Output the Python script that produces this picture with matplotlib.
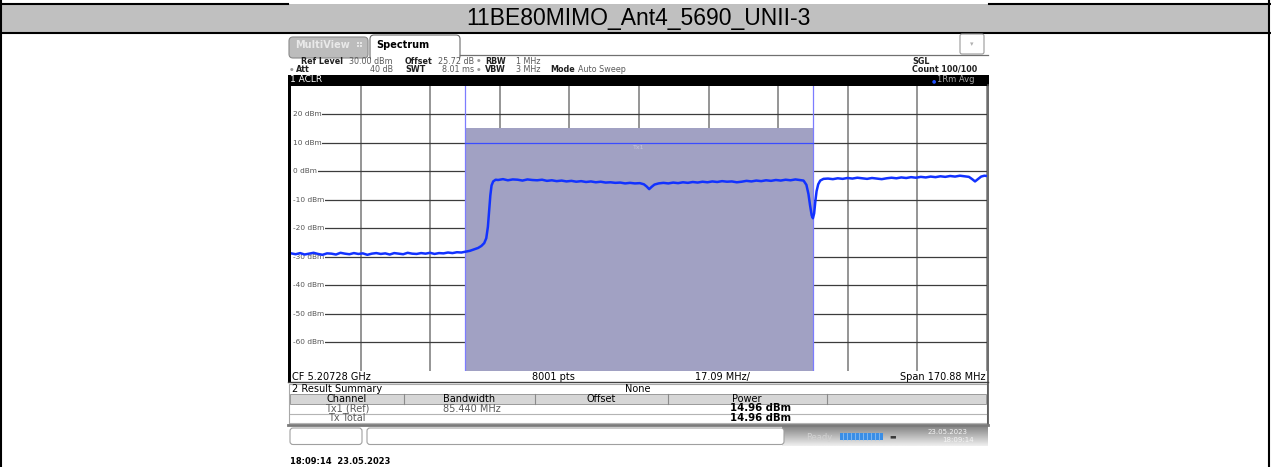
import numpy as np
import matplotlib
matplotlib.use('Agg')
import matplotlib.pyplot as plt
from matplotlib.patches import Rectangle, FancyBboxPatch
from matplotlib.transforms import blended_transform_factory

plt.rcParams['font.family'] = ['DejaVu Sans']

# ---- data ----
title = '11BE80MIMO_Ant4_5690_UNII-3'
ref_level_dbm = 30.0
db_per_div = 10.0
span_mhz = 170.88
channel_bw_mhz = 85.44
tx_power_dbm = 14.96
tx_line_dbm = 10.0
ytick_dbm = [20, 10, 0, -10, -20, -30, -40, -50, -60]

# trace: offset from CF (MHz) and level (dBm)
trace_freq_mhz = [
    -85.4, -84.3, -83.2, -82.1, -81.0, -79.9, -78.8, -77.7, -76.6, -75.5,
    -74.4, -73.3, -72.2, -71.1, -70.0, -68.9, -67.8, -66.7, -65.6, -64.5,
    -63.4, -62.3, -61.2, -60.1, -59.0, -57.9, -56.8, -55.7, -54.6, -53.5,
    -52.4, -51.3, -50.2, -49.1, -48.0, -46.9, -45.8, -44.7, -43.6, -42.5,
    -41.5, -40.5, -39.5, -38.7, -38.0, -37.5, -37.1, -36.8, -36.5, -36.2,
    -35.8, -35.2, -34.6, -33.4, -32.2, -31.0, -29.8, -28.6, -27.4, -26.2,
    -25.0, -23.8, -22.6, -21.4, -20.2, -19.0, -17.8, -16.6, -15.4, -14.2,
    -13.0, -11.8, -10.6, -9.4, -8.2, -7.0, -5.8, -4.6, -3.4, -2.2,
    -1.0, 0.2, 1.2, 1.9, 2.5, 3.1, 3.8, 4.8, 6.0, 7.2,
    8.4, 9.6, 10.8, 12.0, 13.2, 14.4, 15.6, 16.8, 18.0, 19.2,
    20.4, 21.6, 22.8, 24.0, 25.2, 26.4, 27.6, 28.8, 30.0, 31.2,
    32.4, 33.6, 34.8, 36.0, 37.2, 38.4, 39.4, 40.4, 41.1, 41.6,
    42.0, 42.4, 42.7, 43.0, 43.3, 43.6, 44.0, 44.5, 45.3, 46.4,
    47.6, 48.8, 50.0, 51.2, 52.4, 53.6, 54.8, 56.0, 57.2, 58.4,
    59.6, 60.8, 62.0, 63.2, 64.4, 65.6, 66.8, 68.0, 69.2, 70.4,
    71.6, 72.8, 74.0, 75.2, 76.4, 77.6, 78.8, 80.0, 81.0, 81.8,
    82.5, 83.2, 84.0, 84.8, 85.44,
]
trace_level_dbm = [
    -28.8, -29.1, -28.7, -29.2, -28.9, -28.6, -29.0, -29.3, -28.8, -28.9,
    -29.2, -28.6, -28.9, -29.1, -28.7, -29.0, -28.8, -29.3, -28.9, -28.7,
    -29.0, -28.8, -29.2, -28.7, -28.9, -29.1, -28.6, -28.9, -29.0, -28.7,
    -28.9, -28.6, -29.0, -28.7, -28.8, -28.5, -28.7, -28.4, -28.5, -28.2,
    -27.9, -27.4, -26.9, -26.2, -25.2, -23.5, -19.5, -14.0, -8.5, -5.0,
    -3.6, -3.0, -3.1, -2.8, -3.2, -2.9, -3.0, -3.3, -2.9, -3.1,
    -3.2, -3.0, -3.4, -3.2, -3.5, -3.3, -3.6, -3.4, -3.7, -3.5,
    -3.8, -3.6, -3.9, -3.7, -4.0, -3.9, -4.1, -4.0, -4.3, -4.1,
    -4.3, -4.2, -4.6, -5.4, -6.3, -5.5, -4.7, -4.3, -4.1, -4.3,
    -4.0, -4.2, -3.9, -4.1, -3.8, -4.0, -3.7, -3.9, -3.6, -3.8,
    -3.5, -3.7, -3.6, -3.9, -3.7, -3.4, -3.6, -3.3, -3.5, -3.2,
    -3.4, -3.1, -3.3, -3.0, -3.2, -2.9, -3.1, -3.3, -4.8, -8.0,
    -12.0, -15.5, -16.5, -14.8, -10.5, -7.0, -4.6, -3.3, -2.7, -2.6,
    -2.8, -2.5, -2.7, -2.4, -2.6, -2.3, -2.5, -2.7, -2.4, -2.6,
    -2.8, -2.5, -2.3, -2.5, -2.2, -2.4, -2.1, -2.3, -2.0, -2.2,
    -1.9, -2.1, -1.8, -2.0, -1.7, -1.9, -1.6, -1.8, -2.0, -2.8,
    -3.6, -2.8, -1.9, -1.6, -1.7,
]

W, H = 1271, 467
fig = plt.figure(figsize=(W / 100, H / 100), dpi=100)
bg = fig.add_axes([0, 0, 1, 1])
bg.set_xlim(0, W)
bg.set_ylim(H, 0)
bg.axis('off')


def rect(x0, y0, x1, y1, fc, ec='none', lw=0.8, z=1):
    bg.add_patch(Rectangle((x0, y0), x1 - x0, y1 - y0, fc=fc, ec=ec, lw=lw, zorder=z))


def rbox(x0, y0, x1, y1, fc, ec, lw=0.8, r=3, z=2):
    bg.add_patch(FancyBboxPatch((x0, y0), x1 - x0, y1 - y0,
                                boxstyle='round,pad=0,rounding_size=%d' % r,
                                fc=fc, ec=ec, lw=lw, zorder=z, mutation_aspect=1))


def txt(x, y, s, size=6, **kw):
    kw.setdefault('va', 'center')
    bg.text(x, y, s, fontsize=size, zorder=6, **kw)


# outer report table
rect(1, 4, 1268, 32.5, '#c0c0c0')
bg.plot([0, 288], [3.5, 3.5], color='black', lw=1.5)
bg.plot([989, W], [3.5, 3.5], color='black', lw=1.5)
bg.plot([0, W], [32.8, 32.8], color='black', lw=1.5)
bg.plot([1.2, 1.2], [0, H], color='black', lw=1.5)
bg.plot([1268.5, 1268.5], [0, H], color='black', lw=1.5)
txt(638, 18.5, title, size=16.5, ha='center', family=['Liberation Sans', 'DejaVu Sans'])

# tabs
rbox(289, 37, 368, 58, '#bcbcbc', '#8a8a8a', r=4)
txt(295, 45.5, 'MultiView', size=7, color='#e9e9e9', weight='bold')
for dx, dy in [(0, 0), (3, 0), (0, 3), (3, 3)]:
    rect(357 + dx, 42 + dy, 359 + dx, 44 + dy, '#e6e6e6', z=4)
rbox(370, 35, 460, 60, 'white', '#6a6a6a', r=4)
rect(371, 54, 459, 62, 'white', z=3)
bg.plot([460, 988], [55, 55], color='#707070', lw=0.9, zorder=3)
txt(376, 45, 'Spectrum', size=7, color='black', weight='bold')
rbox(960, 34, 984, 54, 'white', '#9a9a9a', r=2)
txt(972, 44, '\u25be', size=5, ha='center', color='#b0b0b0')

# settings header
y1, y2 = 61, 69.5
lab = dict(weight='bold', color='#202020', size=5.8)
val = dict(color='#5a5a5a', size=5.8)
txt(301, y1, 'Ref Level', **lab)
txt(349, y1, '30.00 dBm', **val)
txt(405, y1, 'Offset', **lab)
txt(438, y1, '25.72 dB', **val)
txt(477, y1, '\u25cf', color='#9a9a9a', size=3)
txt(485, y1, 'RBW', **lab)
txt(516, y1, '1 MHz', **val)
txt(290, y2, '\u25cf', color='#9a9a9a', size=3)
txt(296, y2, 'Att', **lab)
txt(393, y2, '40 dB', ha='right', **val)
txt(405, y2, 'SWT', **lab)
txt(442, y2, '8.01 ms', **val)
txt(477, y2, '\u25cf', color='#9a9a9a', size=3)
txt(485, y2, 'VBW', **lab)
txt(516, y2, '3 MHz', **val)
txt(550, y2, 'Mode', **lab)
txt(578, y2, 'Auto Sweep', **val)
txt(912, y1, 'SGL', **lab)
txt(912, y2, 'Count 100/100', weight='bold', color='#202020', size=5.8)

# black window bar
rect(288, 74.5, 989, 85.5, 'black', z=3)
txt(290, 80, '1 ACLR', size=6.5, color='white')
txt(932, 80.5, '\u25cf', size=3.5, color='#2050ff')
txt(937, 80, '1Rm Avg', size=6, color='#a8a8a8')

# frame of the trace window
rect(287.5, 74.5, 291, 381.5, 'black', z=3)
bg.plot([988, 988], [85, 425], color='#505050', lw=1.2, zorder=3)

# CF row
cf = dict(size=7, color='black', va='baseline')
txt(292, 380, 'CF 5.20728 GHz', **cf)
txt(553, 380, '8001 pts', ha='center', **cf)
txt(722, 380, '%.2f MHz/' % (span_mhz / 10), ha='center', **cf)
txt(986, 380, 'Span %.2f MHz' % span_mhz, ha='right', **cf)
bg.plot([288, 988], [381.8, 381.8], color='#404040', lw=1.0, zorder=3)

# result summary
rect(289, 384, 987, 425, 'white', ec='#a8a8a8', lw=0.8)
txt(292, 389.5, '2 Result Summary', size=7, color='black')
txt(638, 389.5, 'None', size=7, ha='center', color='black')
rect(290, 394, 986, 403.5, '#d6d6d6', ec='#9a9a9a', lw=0.7, z=2)
for xd in [404, 535, 668, 827]:
    bg.plot([xd, xd], [394, 403.5], color='#8a8a8a', lw=0.8, zorder=3)
hdr = dict(size=7, ha='center', color='black')
txt(347, 398.7, 'Channel', **hdr)
txt(469, 398.7, 'Bandwidth', **hdr)
txt(601, 398.7, 'Offset', **hdr)
txt(747, 398.7, 'Power', **hdr)
for yl in [413.5, 422.5]:
    bg.plot([290, 986], [yl, yl], color='#b4b4b4', lw=0.8, zorder=3)
txt(347, 408.7, 'Tx1 (Ref)', size=7, ha='center', color='#5a5a5a')
txt(443, 408.7, '%.3f MHz' % channel_bw_mhz, size=7, color='#5a5a5a')
txt(761, 408.3, '%.2f dBm' % tx_power_dbm, size=7.3, ha='center', color='black', weight='bold')
txt(347, 418, 'Tx Total', size=7, ha='center', color='#5a5a5a')
txt(761, 417.6, '%.2f dBm' % tx_power_dbm, size=7.3, ha='center', color='black', weight='bold')
bg.plot([288, 988], [425.2, 425.2], color='#7a7a7a', lw=2.0, zorder=3)

# status bar
grad = np.linspace(0.52, 0.93, 20)[:, None]
bg.imshow(grad, extent=[782, 988, 446, 426.5], cmap='gray', vmin=0, vmax=1,
          aspect='auto', zorder=1)
bg.set_xlim(0, W)
bg.set_ylim(H, 0)
rbox(290, 428, 362, 444.5, 'white', '#a0a0a0', r=3)
rbox(367, 428, 784, 444.5, 'white', '#a0a0a0', r=3)
txt(806, 437, 'Ready', size=6, color='#d2d2d2')
rect(840, 432.5, 883, 440, '#3a8ee6', z=4)
for xs in range(843, 883, 4):
    bg.plot([xs, xs], [433, 439.5], color='#9cc8f4', lw=0.5, zorder=5)
txt(889, 436.5, '\u25ac', size=5, color='#3a3a3a')
txt(948, 432.5, '23.05.2023', size=5, ha='center', color='#f4f4f4')
txt(958, 440.5, '18:09:14', size=5, ha='center', color='#f4f4f4')

txt(290, 461, '18:09:14  23.05.2023', size=6, color='black', weight='bold')

# ---- trace window ----
x0p, x1p, y0p, y1p = 291, 987, 85.5, 371
ax = fig.add_axes([x0p / W, 1 - y1p / H, (x1p - x0p) / W, (y1p - y0p) / H])
half = span_mhz / 2
ax.set_xlim(-half, half)
ax.set_ylim(ref_level_dbm - 10 * db_per_div, ref_level_dbm)
ax.set_xticks([])
ax.set_yticks([])
for s in ax.spines.values():
    s.set_visible(False)

div = span_mhz / 10
for k in range(1, 11):
    ax.axvline(-half + k * div, color='#8c8c8c', lw=1.3, zorder=1)
trans = blended_transform_factory(ax.transAxes, ax.transData)
for v in ytick_dbm:
    ax.axhline(v, xmin=0.01, color='#3c3c3c', lw=0.9, zorder=1)
    ax.text(0.003, v, '%d dBm' % v, transform=trans, fontsize=5.3, color='#555555',
            va='center', ha='left', zorder=1.5,
            bbox=dict(fc='white', ec='none', pad=0.4))

hb = channel_bw_mhz / 2
ax.fill_between([-hb, hb], ref_level_dbm - 10 * db_per_div, tx_power_dbm,
                color='#a1a1c3', zorder=2, lw=0)
for xe in [-hb, hb]:
    ax.axvline(xe, color='#7c7cff', lw=0.9, zorder=3)
ax.plot([-hb, hb], [tx_line_dbm, tx_line_dbm], color='#3a4cff', lw=0.9, zorder=3)
ax.text(0, tx_line_dbm - 1.0, 'Tx1', fontsize=4.5, color='#c6c6d8',
        ha='center', va='top', zorder=3)

ax.plot(trace_freq_mhz, trace_level_dbm, color='#1232ff', lw=1.8, zorder=4)

fig.savefig('out.png', dpi=100)
